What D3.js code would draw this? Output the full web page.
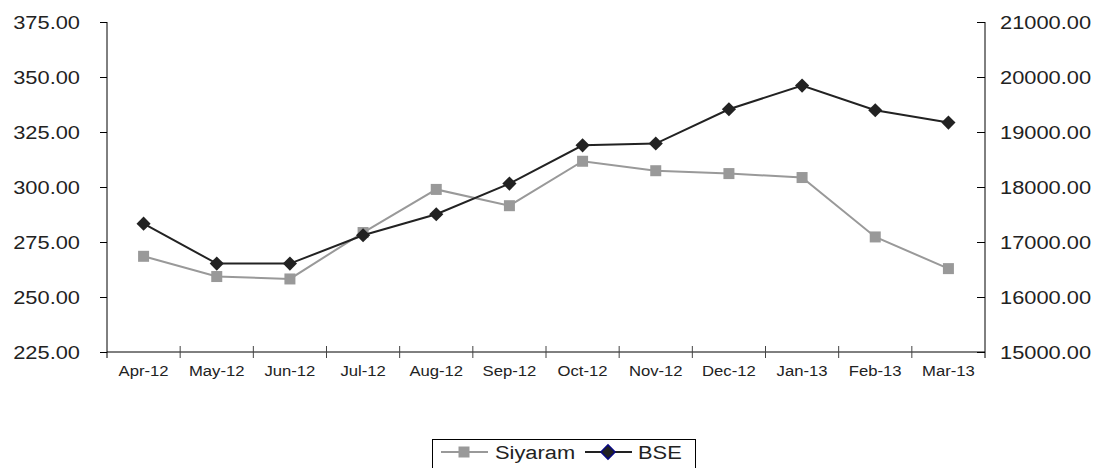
<!DOCTYPE html>
<html>
<head>
<meta charset="utf-8">
<script src="https://cdn.jsdelivr.net/npm/d3@7"></script>
<style>
  body { margin: 0; background: #fff; }
  text { font-family: "Liberation Sans", Arial, sans-serif; fill: #222; }
</style>
</head>
<body>
<div id="chart"></div>
<script>
// data
const months = ["Apr-12", "May-12", "Jun-12", "Jul-12", "Aug-12", "Sep-12",
                "Oct-12", "Nov-12", "Dec-12", "Jan-13", "Feb-13", "Mar-13"];
const siyaram = [268.5, 259.3, 258.2, 279.3, 298.9, 291.5, 311.7, 307.4, 306.1, 304.3, 277.3, 262.9];
const bse = [17334, 16607, 16607, 17122, 17504, 18062, 18758, 18790, 19413, 19844, 19395, 19171];
const leftTicks = [225, 250, 275, 300, 325, 350, 375];
const rightTicks = [15000, 16000, 17000, 18000, 19000, 20000, 21000];

const W = 1095, H = 468;
const stretch = 1.15; // the reference text is a bit wide

let svg = d3.select("#chart").append("svg")
    .attr("width", W)
    .attr("height", H);

let x = d3.scaleBand().domain(months).range([107, 985]);
let yL = d3.scaleLinear().domain([225, 375]).range([352, 22]);
let yR = d3.scaleLinear().domain([15000, 21000]).range([352, 22]);

// left axis
let gL = svg.append("g")
    .attr("transform", "translate(107,0)")
    .call(d3.axisLeft(yL).tickValues(leftTicks).tickSizeInner(7).tickSizeOuter(0)
        .tickPadding(20).tickFormat(d3.format(".2f")));
gL.select(".domain").remove();
gL.append("line").attr("y1", 22).attr("y2", 358).attr("stroke", "#000");

// right axis, ticks point inward
let gR = svg.append("g")
    .attr("transform", "translate(985,0)")
    .call(d3.axisRight(yR).tickValues(rightTicks).tickSizeInner(-8).tickSizeOuter(0)
        .tickPadding(15).tickFormat(d3.format(".2f")));
gR.select(".domain").remove();
gR.append("line").attr("y1", 22).attr("y2", 358).attr("stroke", "#000");

[gL, gR].forEach(g => {
    g.selectAll("text")
        .attr("font-size", 19)
        .attr("x", function() { return +d3.select(this).attr("x") / stretch; })
        .attr("transform", `scale(${stretch},1)`);
    g.selectAll(".tick line").attr("stroke", "#000");
});

// x axis
let gX = svg.append("g").attr("transform", "translate(0,352)");
gX.append("line").attr("x1", 107).attr("x2", 985).attr("stroke", "#000");
gX.selectAll(".xtick")
    .data(months.slice(1))
    .enter()
    .append("line")
    .attr("class", "xtick")
    .attr("x1", d => x(d)).attr("x2", d => x(d))
    .attr("y1", -6).attr("y2", 6)
    .attr("stroke", "#444");
gX.selectAll(".xlabel")
    .data(months)
    .enter()
    .append("text")
    .attr("class", "xlabel")
    .attr("text-anchor", "middle")
    .attr("font-size", 14.5)
    .attr("transform", d => `translate(${x(d) + x.bandwidth() / 2},24) scale(${stretch},1)`)
    .text(d => d);

let cx = (d, i) => x(months[i]) + x.bandwidth() / 2;

// Siyaram line (left axis)
svg.append("path")
    .datum(siyaram)
    .attr("fill", "none")
    .attr("stroke", "#999")
    .attr("stroke-width", 2)
    .attr("d", d3.line().x(cx).y(d => yL(d)));

svg.selectAll(".sq")
    .data(siyaram)
    .enter()
    .append("rect")
    .attr("class", "sq")
    .attr("x", (d, i) => cx(d, i) - 5.5)
    .attr("y", d => yL(d) - 5.5)
    .attr("width", 11).attr("height", 11)
    .attr("fill", "#999");

// BSE line (right axis)
svg.append("path")
    .datum(bse)
    .attr("fill", "none")
    .attr("stroke", "#222")
    .attr("stroke-width", 2)
    .attr("d", d3.line().x(cx).y(d => yR(d)));

let diamond = d3.symbol().type(d3.symbolSquare).size(100);
svg.selectAll(".dm")
    .data(bse)
    .enter()
    .append("path")
    .attr("class", "dm")
    .attr("d", diamond)
    .attr("transform", (d, i) => `translate(${cx(d, i)},${yR(d)}) rotate(45)`)
    .attr("fill", "#222");

// legend
let legend = svg.append("g").attr("transform", "translate(432,439)");
legend.append("rect")
    .attr("x", 0.5).attr("y", 0.5)
    .attr("width", 263).attr("height", 34)
    .attr("fill", "#fff").attr("stroke", "#000");

legend.append("line").attr("x1", 9).attr("x2", 56).attr("y1", 13).attr("y2", 13)
    .attr("stroke", "#999").attr("stroke-width", 2);
legend.append("rect").attr("x", 26.5).attr("y", 7.5).attr("width", 11).attr("height", 11)
    .attr("fill", "#999");
legend.append("text")
    .attr("transform", `translate(63,20) scale(${stretch},1)`)
    .attr("font-size", 19)
    .text("Siyaram");

legend.append("line").attr("x1", 153).attr("x2", 200).attr("y1", 13).attr("y2", 13)
    .attr("stroke", "#222").attr("stroke-width", 2);
legend.append("path")
    .attr("d", diamond)
    .attr("transform", "translate(176,13) rotate(45)")
    .attr("fill", "#222").attr("stroke", "#0a0a80").attr("stroke-width", 1.5);
legend.append("text")
    .attr("transform", `translate(206,20) scale(${stretch},1)`)
    .attr("font-size", 19)
    .text("BSE");
</script>
</body>
</html>
